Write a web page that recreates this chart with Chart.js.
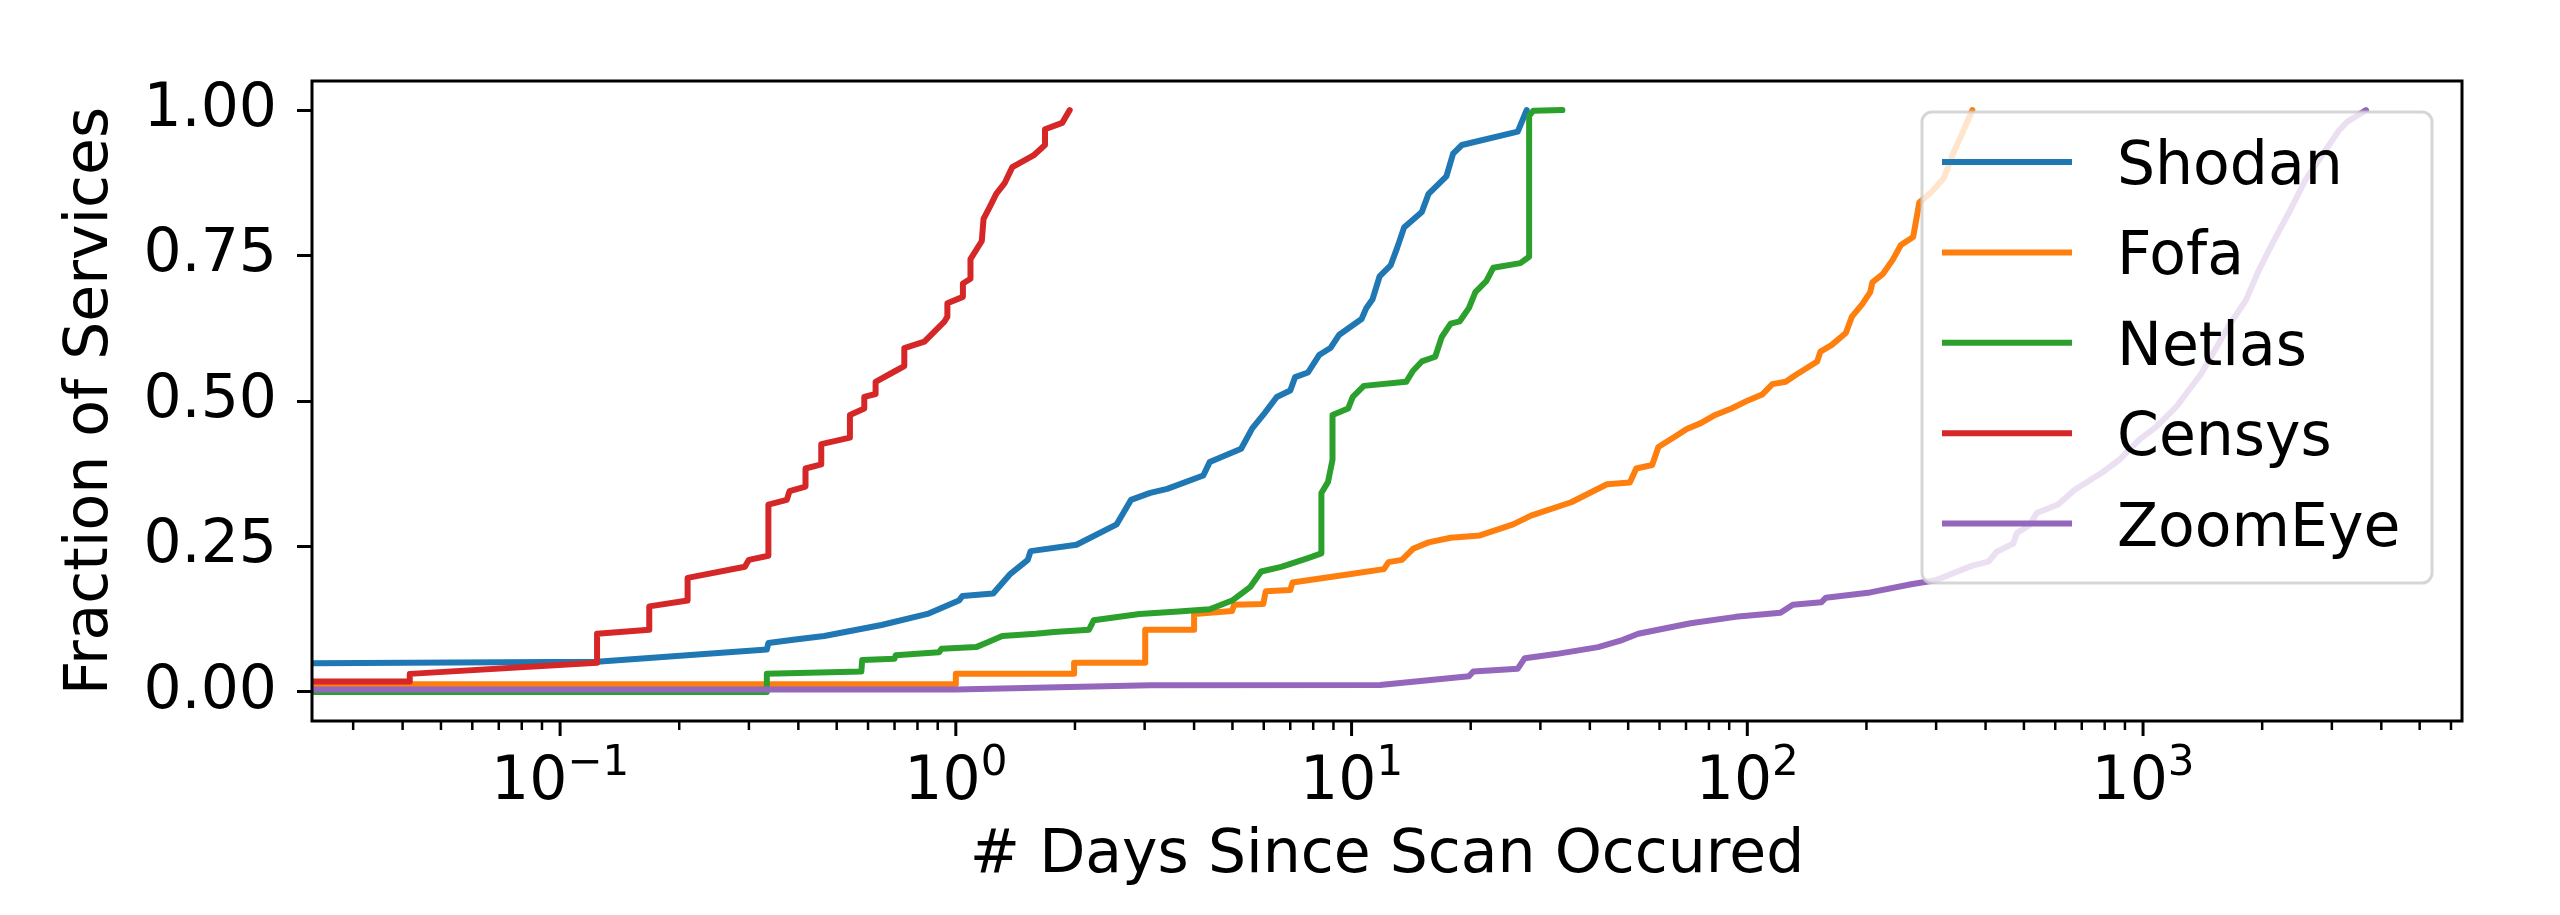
<!DOCTYPE html>
<html>
<head>
<meta charset="utf-8">
<script src="https://cdn.jsdelivr.net/npm/chart.js@4.4.1/dist/chart.umd.min.js"></script>
<style>
  html, body { margin: 0; padding: 0; background: #fff; }
  canvas { display: block; }
</style>
</head>
<body>
<canvas id="cdf" width="2560" height="915"></canvas>
<script>
// [days since scan, fraction of services]
var shodan = [
  [0.01, 0.048], [0.124, 0.052], [0.333, 0.073], [0.336, 0.084], [0.393, 0.09], [0.465, 0.096],
  [0.649, 0.115], [0.848, 0.134], [1.018, 0.157], [1.04, 0.165], [1.243, 0.169], [1.374, 0.203],
  [1.52, 0.227], [1.545, 0.242], [2.018, 0.253], [2.55, 0.288], [2.77, 0.33], [3.10, 0.342],
  [3.42, 0.349], [4.22, 0.372], [4.38, 0.395], [5.26, 0.418], [5.61, 0.453], [5.98, 0.476],
  [6.47, 0.507], [7.0, 0.518], [7.2, 0.541], [7.76, 0.549], [8.28, 0.579], [8.84, 0.591],
  [9.31, 0.614], [10.6, 0.641], [10.9, 0.66], [11.3, 0.675], [11.77, 0.714], [12.55, 0.733],
  [13.05, 0.764], [13.57, 0.798], [15.05, 0.825], [15.65, 0.856], [17.36, 0.886], [18.05, 0.925],
  [19.0, 0.94], [26.3, 0.963], [27.7, 1.0]
];
var fofa = [
  [0.01, 0.013], [1.0, 0.013], [1.0, 0.031], [1.99, 0.031], [1.99, 0.05], [3.01, 0.05],
  [3.01, 0.107], [4.0, 0.107], [4.0, 0.134], [4.99, 0.139], [5.05, 0.15], [5.98, 0.151],
  [6.07, 0.173], [7.0, 0.175], [7.09, 0.188], [10.06, 0.203], [12.07, 0.211], [12.4, 0.223],
  [13.4, 0.227], [14.3, 0.246], [15.65, 0.257], [17.8, 0.265], [21.1, 0.269], [25.6, 0.288],
  [28.4, 0.303], [35.9, 0.326], [44.2, 0.357], [50.5, 0.36], [52.4, 0.384], [57.5, 0.39],
  [59.6, 0.421], [65.4, 0.438], [70.3, 0.452], [76.3, 0.462], [83.0, 0.476], [91.2, 0.487],
  [100.4, 0.501], [109, 0.511], [115.7, 0.529], [125, 0.533], [133.4, 0.546], [150.2, 0.568],
  [153, 0.585], [163.2, 0.596], [177.4, 0.617], [183.8, 0.645], [195, 0.666], [204.5, 0.687],
  [207, 0.704], [219.8, 0.718], [233.2, 0.743], [244.4, 0.768], [262.5, 0.782], [267, 0.81],
  [272, 0.841], [291.8, 0.859], [313.6, 0.883], [333, 0.929], [353, 0.967], [370.3, 1.0]
];
var netlas = [
  [0.01, 0.0], [0.333, 0.0], [0.333, 0.031], [0.577, 0.035], [0.58, 0.055], [0.70, 0.057],
  [0.705, 0.063], [0.906, 0.068], [0.92, 0.074], [1.125, 0.077], [1.2, 0.085], [1.31, 0.096],
  [1.59, 0.1], [1.77, 0.103], [2.17, 0.107], [2.23, 0.123], [2.91, 0.134], [3.65, 0.138],
  [4.38, 0.142], [4.99, 0.157], [5.54, 0.18], [5.91, 0.207], [6.64, 0.215], [7.76, 0.23],
  [8.39, 0.238], [8.39, 0.342], [8.72, 0.361], [8.95, 0.399], [8.95, 0.476], [9.8, 0.487],
  [10.07, 0.507], [10.74, 0.526], [13.74, 0.533], [14.3, 0.552], [15.05, 0.568], [16.27, 0.576],
  [16.9, 0.61], [17.8, 0.633], [18.77, 0.637], [19.8, 0.66], [20.55, 0.687], [21.9, 0.706],
  [22.8, 0.729], [26.7, 0.737], [28.1, 0.748], [28.1, 0.99], [28.8, 0.999], [34.1, 1.0]
];
var censys = [
  [0.01, 0.018], [0.0417, 0.018], [0.0417, 0.031], [0.124, 0.05], [0.124, 0.1], [0.168, 0.107],
  [0.168, 0.147], [0.21, 0.157], [0.21, 0.196], [0.293, 0.215], [0.30, 0.227], [0.336, 0.234],
  [0.336, 0.322], [0.374, 0.33], [0.38, 0.345], [0.417, 0.353], [0.417, 0.384], [0.457, 0.391],
  [0.457, 0.426], [0.54, 0.437], [0.54, 0.476], [0.587, 0.487], [0.587, 0.507], [0.627, 0.512],
  [0.627, 0.533], [0.705, 0.552], [0.741, 0.56], [0.741, 0.591], [0.833, 0.602], [0.937, 0.637],
  [0.952, 0.645], [0.952, 0.668], [1.042, 0.679], [1.042, 0.702], [1.089, 0.71], [1.089, 0.744],
  [1.163, 0.775], [1.175, 0.813], [1.223, 0.836], [1.265, 0.856], [1.33, 0.875], [1.389, 0.902],
  [1.571, 0.922], [1.68, 0.94], [1.68, 0.967], [1.857, 0.978], [1.94, 1.0]
];
var zoomeye = [
  [0.01, 0.004], [1.0, 0.004], [3.1, 0.0115], [11.8, 0.012], [19.8, 0.027], [20.3, 0.035],
  [26.3, 0.04], [27.4, 0.058], [32.8, 0.065], [42, 0.077], [47.8, 0.088], [53.0, 0.1],
  [71.9, 0.118], [93.4, 0.129], [121.3, 0.136], [130.3, 0.15], [153.8, 0.154], [158, 0.162],
  [204.5, 0.171], [259.4, 0.185], [299, 0.192], [370.3, 0.217], [407, 0.224], [427, 0.241],
  [470, 0.255], [480, 0.273], [516.6, 0.287], [540, 0.308], [610, 0.322], [670.6, 0.347],
  [792, 0.378], [871, 0.399], [980, 0.434], [1078, 0.455], [1213, 0.49], [1303, 0.518],
  [1400, 0.546], [1504, 0.582], [1653, 0.631], [1818, 0.673], [1953, 0.722], [2097, 0.764],
  [2350, 0.827], [2577, 0.881], [2838, 0.923], [3126, 0.965], [3280, 0.98], [3660, 1.0]
];

var seriesNames = ['Shodan', 'Fofa', 'Netlas', 'Censys', 'ZoomEye'];
var seriesColors = ['#1f77b4', '#ff7f0e', '#2ca02c', '#d62728', '#9467bd'];
var seriesData = [shodan, fofa, netlas, censys, zoomeye];

var yTicks = [0, 0.25, 0.5, 0.75, 1.0];
var xMajorTicks = [0.1, 1, 10, 100, 1000];
var xTickExponents = ['\u22121', '0', '1', '2', '3'];
var xMinorTicks = [0.03, 0.04, 0.05, 0.06, 0.07, 0.08, 0.09,
  0.2, 0.3, 0.4, 0.5, 0.6, 0.7, 0.8, 0.9,
  2, 3, 4, 5, 6, 7, 8, 9,
  20, 30, 40, 50, 60, 70, 80, 90,
  200, 300, 400, 500, 600, 700, 800, 900,
  2000, 3000, 4000, 5000, 6000];

var FONT = 'DejaVu Sans';

function roundRect(ctx, x, y, w, h, r) {
  ctx.beginPath();
  ctx.moveTo(x + r, y);
  ctx.arcTo(x + w, y, x + w, y + h, r);
  ctx.arcTo(x + w, y + h, x, y + h, r);
  ctx.arcTo(x, y + h, x, y, r);
  ctx.arcTo(x, y, x + w, y, r);
  ctx.closePath();
}

// frame, log ticks with superscript labels, and the matplotlib-ish legend
var extras = {
  id: 'extras',
  afterDatasetsDraw: function(chart) {
    var ctx = chart.ctx, a = chart.chartArea, xs = chart.scales.x;
    ctx.save();

    // legend (semi transparent, lines show through)
    var lx = a.right - 540, ly = a.top + 31, lw = 510, lh = 471;
    roundRect(ctx, lx, ly, lw, lh, 10);
    ctx.fillStyle = 'rgba(255,255,255,0.8)';
    ctx.fill();
    ctx.strokeStyle = 'rgba(204,204,204,0.8)';
    ctx.lineWidth = 3;
    ctx.stroke();
    ctx.font = '60px "' + FONT + '"';
    ctx.textAlign = 'left';
    ctx.textBaseline = 'alphabetic';
    for (var i = 0; i < seriesNames.length; i++) {
      var ry = ly + 50 + i * 90.4;
      ctx.strokeStyle = seriesColors[i];
      ctx.lineWidth = 6;
      ctx.lineCap = 'butt';
      ctx.beginPath();
      ctx.moveTo(lx + 20, ry);
      ctx.lineTo(lx + 150, ry);
      ctx.stroke();
      ctx.fillStyle = '#000';
      ctx.fillText(seriesNames[i], lx + 195, ry + 22);
    }

    // axes frame
    ctx.strokeStyle = '#000';
    ctx.lineWidth = 3;
    ctx.strokeRect(a.left, a.top, a.right - a.left, a.bottom - a.top);

    // x ticks
    ctx.lineCap = 'butt';
    xMinorTicks.forEach(function(v) {
      var px = xs.getPixelForValue(v);
      ctx.lineWidth = 2.5;
      ctx.beginPath();
      ctx.moveTo(px, a.bottom);
      ctx.lineTo(px, a.bottom + 9);
      ctx.stroke();
    });
    xMajorTicks.forEach(function(v, k) {
      var px = xs.getPixelForValue(v);
      ctx.lineWidth = 3;
      ctx.beginPath();
      ctx.moveTo(px, a.bottom);
      ctx.lineTo(px, a.bottom + 15);
      ctx.stroke();
      ctx.font = '60px "' + FONT + '"';
      var w1 = ctx.measureText('10').width;
      ctx.font = '42px "' + FONT + '"';
      var w2 = ctx.measureText(xTickExponents[k]).width;
      var x0 = px - (w1 + w2) / 2;
      ctx.fillStyle = '#000';
      ctx.textAlign = 'left';
      ctx.font = '60px "' + FONT + '"';
      ctx.fillText('10', x0, a.bottom + 78);
      ctx.font = '42px "' + FONT + '"';
      ctx.fillText(xTickExponents[k], x0 + w1, a.bottom + 54);
    });
    ctx.restore();
  }
};

var datasets = seriesData.map(function(s, i) {
  return {
    label: seriesNames[i],
    data: s.map(function(p) { return {x: p[0], y: p[1]}; }),
    borderColor: seriesColors[i],
    backgroundColor: seriesColors[i],
    borderWidth: 6,
    borderJoinStyle: 'round',
    borderCapStyle: 'round',
    pointRadius: 0,
    tension: 0,
    fill: false,
    clip: 0,
    order: seriesNames.length - i
  };
});

new Chart(document.getElementById('cdf'), {
  type: 'line',
  data: { datasets: datasets },
  options: {
    responsive: false,
    devicePixelRatio: 1,
    animation: false,
    layout: { padding: { left: 0, right: 98, top: 81, bottom: 0 } },
    plugins: { legend: { display: false }, tooltip: { enabled: false } },
    scales: {
      x: {
        type: 'logarithmic',
        position: 'bottom',
        min: 0.02361,
        max: 6397,
        afterFit: function(s) { s.height = 194; },
        afterBuildTicks: function(s) {
          s.ticks = xMajorTicks.concat(xMinorTicks).sort(function(p, q) { return p - q; })
            .map(function(v) { return {value: v}; });
        },
        ticks: { display: false },
        grid: { display: false },
        border: { display: false },
        title: {
          display: true,
          text: '# Days Since Scan Occured',
          color: '#000',
          font: { family: FONT, size: 60 },
          padding: { top: 0, bottom: 23 }
        }
      },
      y: {
        type: 'linear',
        min: -0.05,
        max: 1.05,
        afterFit: function(s) { s.width = 312; },
        afterBuildTicks: function(s) {
          s.ticks = yTicks.map(function(v) { return {value: v}; });
        },
        ticks: {
          color: '#000',
          padding: 20,
          font: { family: FONT, size: 60 },
          callback: function(v) { return Number(v).toFixed(2); }
        },
        grid: {
          drawOnChartArea: false,
          drawTicks: true,
          tickLength: 15,
          tickWidth: 3,
          tickColor: '#000'
        },
        border: { display: false },
        title: {
          display: true,
          text: 'Fraction of Services',
          color: '#000',
          font: { family: FONT, size: 60 },
          padding: { top: 55, bottom: 0 }
        }
      }
    }
  },
  plugins: [extras]
});
</script>
</body>
</html>
